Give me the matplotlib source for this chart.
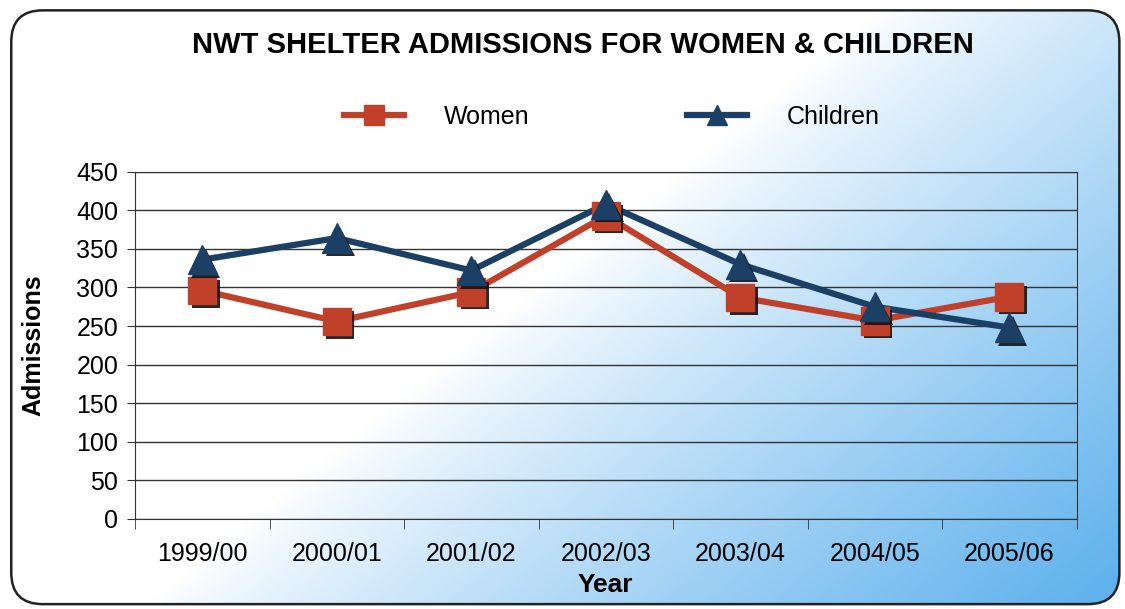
import numpy as np
import matplotlib
matplotlib.use('Agg')
import matplotlib.pyplot as plt
import matplotlib.patheffects as pe
from matplotlib.patches import FancyBboxPatch

plt.rcParams['font.family'] = ['Liberation Sans', 'DejaVu Sans']

years = ['1999/00', '2000/01', '2001/02', '2002/03', '2003/04', '2004/05', '2005/06']
women = [296, 256, 294, 393, 287, 257, 288]
children = [336, 364, 322, 408, 330, 275, 248]

women_color = '#c0402a'
children_color = '#1c3f66'

fig = plt.figure(figsize=(11.25, 6.09), dpi=100)

# background gradient clipped to a rounded frame
bg = fig.add_axes([0, 0, 1, 1])
bg.set_xlim(0, 1)
bg.set_ylim(0, 1)
bg.axis('off')
gx, gy = np.meshgrid(np.linspace(0, 1, 300), np.linspace(1, 0, 200))
t = np.clip(1.2 * gx + 0.8 * (1 - gy) - 0.95, 0, 1) ** 0.85
white = np.array([1.0, 1.0, 1.0])
blue = np.array([0.38, 0.70, 0.93])
img = white[None, None, :] * (1 - t[..., None]) + blue[None, None, :] * t[..., None]
frame = FancyBboxPatch((0.01, 0.008), 0.985, 0.975, boxstyle='round,pad=0,rounding_size=0.028',
                       transform=bg.transAxes, facecolor='none', edgecolor='#222222', lw=1.8,
                       mutation_aspect=1125 / 609)
im = bg.imshow(img, extent=[0, 1, 0, 1], aspect='auto', zorder=0, interpolation='bilinear')
bg.add_patch(frame)
im.set_clip_path(frame)

ax = fig.add_axes([0.12, 0.148, 0.837, 0.57])
ax.patch.set_alpha(0)
x = np.arange(len(years))

shadow = [pe.SimplePatchShadow(offset=(2.5, -2.5), shadow_rgbFace='#111111', alpha=0.9), pe.Normal()]
ax.plot(x, women, color=women_color, lw=4.5, zorder=3)
ax.plot(x, children, color=children_color, lw=4.5, zorder=4)
ax.plot(x, women, ls='none', marker='s', ms=20, color=women_color, zorder=5, path_effects=shadow)
ax.plot(x, children, ls='none', marker='^', ms=21, color=children_color, zorder=6, path_effects=shadow)

ax.set_ylim(0, 450)
ax.set_yticks(np.arange(0, 451, 50))
ax.set_xlim(-0.5, len(years) - 0.5)
ax.set_xticks(x)
ax.set_xticklabels(years)
ax.set_xticks(np.arange(-0.5, len(years)), minor=True)
ax.tick_params(axis='x', which='major', length=0, pad=17, labelsize=18)
ax.tick_params(axis='x', which='minor', length=7, color='#333333')
ax.tick_params(axis='y', length=6, color='#333333', labelsize=18, pad=6)
ax.grid(axis='y', color='#333333', lw=1)
for s in ax.spines.values():
    s.set_color('#333333')

ax.set_xlabel('Year', fontsize=19, fontweight='bold', labelpad=5)
ax.set_ylabel('Admissions', fontsize=18, fontweight='bold', labelpad=22)

fig.text(0.518, 0.926, 'NWT SHELTER ADMISSIONS FOR WOMEN & CHILDREN', ha='center', va='center',
         fontsize=21, fontweight='bold')

h1, = ax.plot([], [], color=women_color, lw=4.5, marker='s', ms=14)
h2, = ax.plot([], [], color=children_color, lw=4.5, marker='^', ms=14)
fig.legend([h1, h2], ['Women', 'Children'], loc='center', bbox_to_anchor=(0.544, 0.808), ncol=2,
           frameon=False, fontsize=18, handlelength=2.4, handletextpad=1.6, columnspacing=6.3)

fig.savefig('out.png', dpi=100)
